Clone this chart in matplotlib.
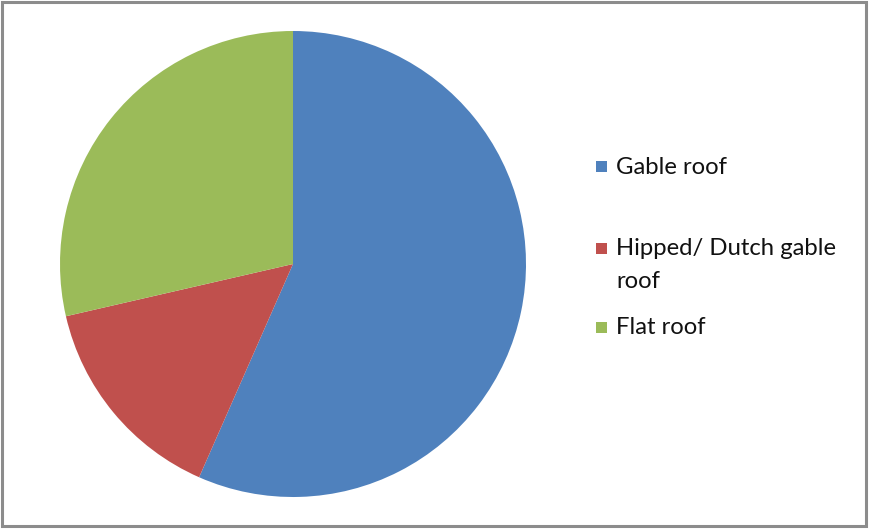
import matplotlib.pyplot as plt
from matplotlib.patches import Rectangle

# roof types share
labels = ["Gable roof", "Hipped/ Dutch gable\nroof", "Flat roof"]
shares = [56.6, 14.8, 28.6]
colors = ["#4f81bd", "#c0504d", "#9bbb59"]

W, H = 869, 529
fig = plt.figure(figsize=(W / 100, H / 100), dpi=100)
ax = fig.add_axes([0, 0, 1, 1])

# pie, clockwise from 12 o'clock
ax.pie(shares, colors=colors, startangle=90, counterclock=False,
       center=(293, H - 264), radius=233, frame=True,
       wedgeprops=dict(linewidth=0))
ax.set_xlim(0, W)
ax.set_ylim(0, H)
ax.set_aspect("equal")
ax.axis("off")

# legend, drawn by hand
marker_y = [166, 248, 327]
for lab, col, yy in zip(labels, colors, marker_y):
    ax.add_patch(Rectangle((596, H - yy - 5.5), 11, 11, color=col, lw=0))
    if "\n" in lab:
        ax.text(616, H - yy + 10, lab, fontsize=17.2, family="Lato",
                color="#111111", va="top", linespacing=1.7)
    else:
        ax.text(616, H - yy - 1, lab, fontsize=17.2, family="Lato",
                color="#111111", va="center")

# outer frame
ax.add_patch(Rectangle((2, 3), 864, 524, fill=False, ec="#8c8c8c", lw=2.2))

fig.savefig("out.png", dpi=100)
